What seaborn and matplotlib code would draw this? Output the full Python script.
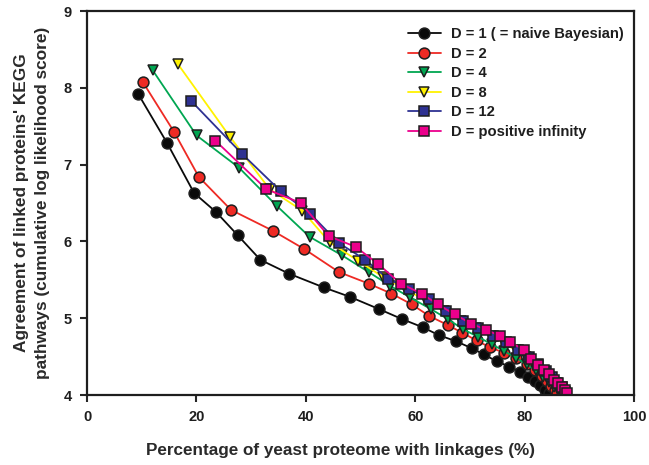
import matplotlib
matplotlib.use("Agg")
import matplotlib.pyplot as plt
import seaborn as sns
import pandas as pd

# Percentage of proteome covered vs. cumulative log likelihood score, per D
d1_x = [9.36, 14.65, 19.58, 23.63, 27.55, 31.7, 36.92, 43.3, 48.0, 53.34, 57.54, 61.44,
        64.29, 67.46, 70.31, 72.5, 74.87, 77.19, 79.2, 80.7, 81.88, 82.85, 83.76, 84.5]
d1_y = [7.92, 7.28, 6.63, 6.38, 6.08, 5.76, 5.58, 5.40, 5.28, 5.12, 4.99, 4.88,
        4.78, 4.70, 4.61, 4.53, 4.44, 4.37, 4.30, 4.24, 4.18, 4.13, 4.07, 4.02]

d2_x = [10.16, 15.88, 20.44, 26.33, 33.94, 39.73, 46.08, 51.51, 55.66, 59.36, 62.54, 65.97,
        68.61, 71.22, 73.67, 76.28, 78.41, 80.35, 81.9, 83.1, 84.1, 84.9, 85.5, 86.0]
d2_y = [8.08, 7.43, 6.84, 6.41, 6.14, 5.90, 5.60, 5.45, 5.32, 5.18, 5.03, 4.91,
        4.81, 4.71, 4.62, 4.55, 4.48, 4.40, 4.32, 4.25, 4.18, 4.12, 4.07, 4.02]

d4_x = [11.99, 20.02, 27.79, 34.73, 40.69, 46.59, 51.51, 55.47, 59.07, 62.83, 65.93, 68.67,
        71.4, 74.0, 76.3, 78.5, 80.4, 82.0, 83.4, 84.5, 85.4, 86.1, 86.7]
d4_y = [8.23, 7.38, 6.96, 6.46, 6.06, 5.82, 5.60, 5.42, 5.27, 5.12, 4.99, 4.86,
        4.76, 4.66, 4.57, 4.48, 4.40, 4.32, 4.24, 4.17, 4.11, 4.06, 4.02]

d8_x = [16.61, 26.15, 33.39, 39.36, 44.34, 49.5, 54.07, 58.3, 62.0, 65.3, 68.4, 71.2,
        73.8, 76.2, 78.4, 80.3, 82.1, 83.6, 84.8, 85.8, 86.6, 87.2]
d8_y = [8.31, 7.36, 6.68, 6.40, 5.99, 5.75, 5.54, 5.37, 5.23, 5.09, 4.97, 4.87,
        4.77, 4.68, 4.58, 4.49, 4.39, 4.30, 4.22, 4.15, 4.09, 4.04]

d12_x = [19.03, 28.34, 35.46, 40.82, 45.99, 50.91, 55.05, 58.94, 62.59, 65.69, 68.67,
         71.5, 74.2, 76.6, 78.8, 80.8, 82.5, 83.9, 85.0, 86.0, 86.8, 87.4]
d12_y = [7.83, 7.14, 6.65, 6.36, 5.98, 5.76, 5.51, 5.38, 5.25, 5.09, 4.97,
         4.87, 4.77, 4.69, 4.59, 4.50, 4.40, 4.31, 4.23, 4.16, 4.10, 4.04]

dinf_x = [23.49, 32.79, 39.1, 44.16, 49.09, 53.16, 57.35, 61.19, 64.11, 67.24, 70.2, 72.94,
          75.49, 77.32, 79.8, 81.2, 82.5, 83.6, 84.5, 85.4, 86.1, 86.9, 87.4, 87.8]
dinf_y = [7.31, 6.68, 6.50, 6.07, 5.93, 5.71, 5.45, 5.32, 5.18, 5.05, 4.93, 4.85,
          4.77, 4.69, 4.59, 4.47, 4.39, 4.33, 4.27, 4.20, 4.15, 4.10, 4.06, 4.02]

labels = ["D = 1 ( = naive Bayesian)", "D = 2", "D = 4", "D = 8", "D = 12",
          "D = positive infinity"]
series_x = [d1_x, d2_x, d4_x, d8_x, d12_x, dinf_x]
series_y = [d1_y, d2_y, d4_y, d8_y, d12_y, dinf_y]

x_ticks = [0, 20, 40, 60, 80, 100]
y_ticks = [4, 5, 6, 7, 8, 9]

colors = ["#0a0a0a", "#ee2a24", "#00a651", "#fff200", "#2e3192", "#ec008c"]
markers = ["o", "o", "v", "v", "s", "s"]

sns.set_style("ticks")
plt.rcParams["font.family"] = ["Liberation Sans", "DejaVu Sans"]
plt.rcParams["font.weight"] = "bold"

fig = plt.figure(figsize=(6.49, 4.65), dpi=100)
ax = fig.add_axes([87 / 649, 1 - 395 / 465, (634 - 87) / 649, (395 - 11) / 465])

for xs, ys, lab, col, mk in zip(series_x, series_y, labels, colors, markers):
    df = pd.DataFrame({"x": xs, "y": ys})
    sns.lineplot(data=df, x="x", y="y", ax=ax, color=col, marker=mk, sort=False,
                 markersize=7.8, linewidth=1.3, markeredgecolor="#1e1e1e",
                 markeredgewidth=1.1, label=lab)

ax.set_xlim(0, 100)
ax.set_ylim(4, 9)
ax.set_xticks(x_ticks)
ax.set_yticks(y_ticks)
ax.tick_params(direction="out", length=5, width=1.5, labelsize=10.5, pad=6)
for t in ax.get_xticklabels() + ax.get_yticklabels():
    t.set_fontweight("bold")
    t.set_color("#1e1e1e")
for sp in ax.spines.values():
    sp.set_visible(True)
    sp.set_linewidth(1.6)
    sp.set_color("#1e1e1e")

ax.set_xlabel("Percentage of yeast proteome with linkages (%)", fontsize=12.3,
              fontweight="bold", color="#2a2a2a")
ax.xaxis.set_label_coords(0.463, -0.125)
ax.set_ylabel("Agreement of linked proteins' KEGG\npathways (cumulative log likelihood score)",
              fontsize=12.4, fontweight="bold", color="#2a2a2a", labelpad=10,
              linespacing=1.45)

leg = ax.legend(loc="upper right", bbox_to_anchor=(1.0, 0.985), frameon=False,
                fontsize=10.6, handlelength=2.3, handletextpad=0.65,
                labelspacing=0.38, borderaxespad=0.3)
for t in leg.get_texts():
    t.set_fontweight("bold")
    t.set_color("#1e1e1e")

fig.savefig("out.png", dpi=100)
